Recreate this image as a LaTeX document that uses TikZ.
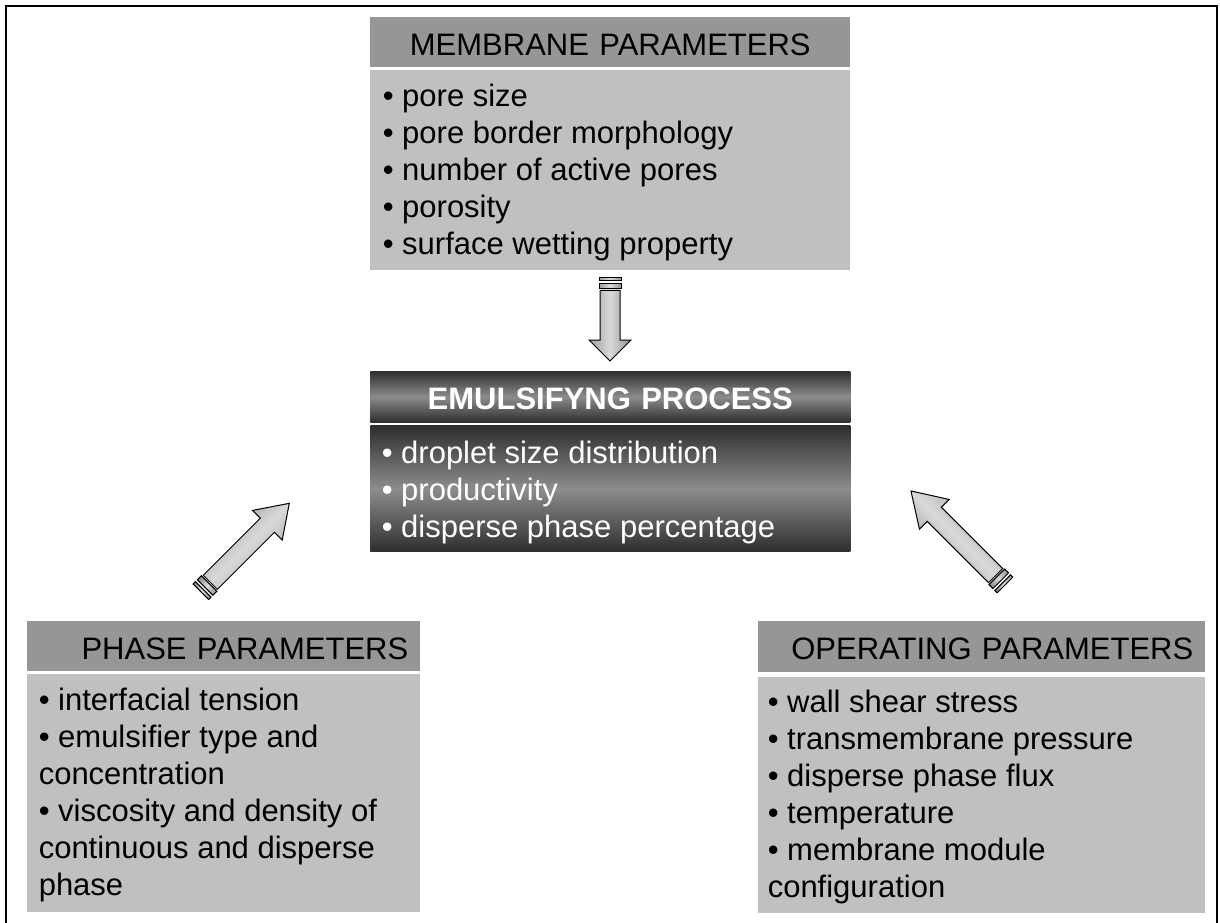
\documentclass[tikz,border=0pt]{standalone}
\usepackage{fontspec}
\setmainfont{Liberation Sans}
\usepackage{tikz}
\usetikzlibrary{positioning}

\definecolor{headgray}{RGB}{150,150,150}
\definecolor{bodygray}{RGB}{192,192,192}

% block arrow: tail coordinate, angle, length, head length
\newcommand{\blkarrow}[4]{%
  \begin{scope}[shift={#1},rotate=#2]
    \draw[arrowfill,shading angle=#2] (0,-11) rectangle (3.3,11);
    \draw[arrowfill,shading angle=#2] (6,-11) rectangle (11.6,11);
    \draw[arrowfill,shading angle=#2] (13.3,-10) -- ({#3-#4},-10) -- ({#3-#4},-21) -- (#3,0)
      -- ({#3-#4},21) -- ({#3-#4},10) -- (13.3,10) -- cycle;
  \end{scope}}

\begin{document}
\begin{tikzpicture}[x=0.75pt,y=-0.75pt,
    txt/.style={font=\fontsize{23.25}{27.75}\selectfont},
    headbox/.style={txt,minimum height=37.5pt,inner xsep=9pt,inner ysep=0pt,
      text height=19.5pt,text depth=0pt,anchor=north west},
    lighthead/.style={headbox,fill=headgray},
    bodybox/.style={fill=bodygray,inner sep=0pt},
    listtext/.style={txt,align=left,inner sep=0pt,anchor=north west},
    darkbox/.style={top color=black!82,bottom color=black!82,middle color=black!45,text=white},
    arrowfill/.style={draw=black,line width=0.75pt,left color=black!42,right color=black!38,
      middle color=black!15}]

  \useasboundingbox (0,0) rectangle (1220,922);
  \draw[line width=1.5pt] (6.3,6.2) rectangle (1217,940);

  % membrane
  \node[lighthead,text width=342pt,align=center] (mhead) at (370,17) {MEMBRANE PARAMETERS};
  \node[bodybox,minimum width=360pt,minimum height=150pt,below right=1.5pt and 0pt of mhead.south west] (mbody) {};
  \node[listtext] (mlist) at ([shift={(12.5,10.6)}]mbody.north west)
    {\strut• pore size\\• pore border morphology\\• number of active pores\\• porosity\\• surface wetting property};

  % emulsifying process
  \node[headbox,darkbox,text width=342pt,align=center,minimum height=38.25pt] (ehead) at (370,371)
    {\textbf{EMULSIFYNG PROCESS}};
  \node[bodybox,darkbox,minimum width=360pt,minimum height=94.5pt,below right=2.25pt and 0pt of ehead.south west] (ebody) {};
  \node[listtext,text=white] (elist) at ([shift={(11.5,12.1)}]ebody.north west)
    {\strut• droplet size distribution\\• productivity\\• disperse phase percentage};

  % phase
  \node[lighthead,text width=276.75pt,align=right] (phead) at (27,621) {PHASE PARAMETERS};
  \node[bodybox,minimum width=294.75pt,minimum height=178.5pt,below right=1.5pt and 0pt of phead.south west] (pbody) {};
  \node[listtext] (plist) at ([shift={(11.5,11.1)}]pbody.north west)
    {\strut• interfacial tension\\• emulsifier type and\\concentration\\• viscosity and density of\\continuous and disperse\\phase};

  % operating
  \node[lighthead,text width=317.25pt,align=right,minimum height=38.25pt] (ohead) at (758,621) {OPERATING PARAMETERS};
  \node[bodybox,minimum width=335.25pt,minimum height=177pt,below right=3pt and 0pt of ohead.south west] (obody) {};
  \node[listtext] (olist) at ([shift={(9.5,10.1)}]obody.north west)
    {\strut• wall shear stress\\• transmembrane pressure\\• disperse phase flux\\• temperature\\• membrane module\\configuration};

  % arrows
  \coordinate (mtail) at (610,277);
  \coordinate (ptail) at (200.9,591.7);
  \coordinate (otail) at (1005,585);
  \blkarrow{(mtail)}{-90}{84}{21}
  \blkarrow{(ptail)}{45}{125}{31}
  \blkarrow{(otail)}{135}{133}{33}
\end{tikzpicture}
\end{document}
